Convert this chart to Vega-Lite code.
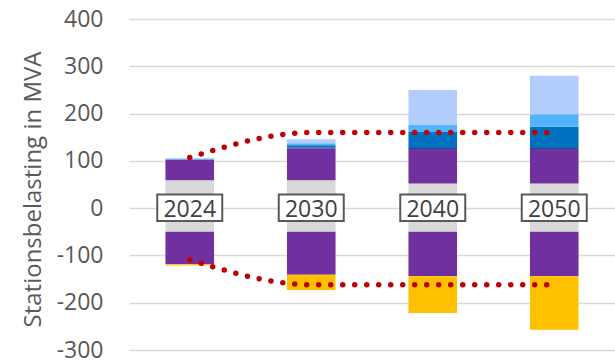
{
  "$schema": "https://vega.github.io/schema/vega-lite/v6.json",
  "width": 486,
  "height": 331,
  "autosize": {"type": "none"},
  "padding": {"left": 129, "top": 19, "right": 0, "bottom": 11},
  "config": {
    "view": {"stroke": null},
    "font": "Open Sans"
  },
  "datasets": {
    "segmenten": [
      {"jaar": "2024", "categorie": "Basislast", "waarde": 59, "volgorde": 1},
      {"jaar": "2024", "categorie": "Afname", "waarde": 44, "volgorde": 2},
      {"jaar": "2024", "categorie": "Laadpleinen", "waarde": 2, "volgorde": 5},
      {"jaar": "2024", "categorie": "Basislast", "waarde": -50, "volgorde": 1},
      {"jaar": "2024", "categorie": "Afname", "waarde": -68.5, "volgorde": 2},
      {"jaar": "2024", "categorie": "Opwek", "waarde": -3, "volgorde": 3},

      {"jaar": "2030", "categorie": "Basislast", "waarde": 59, "volgorde": 1},
      {"jaar": "2030", "categorie": "Afname", "waarde": 67.5, "volgorde": 2},
      {"jaar": "2030", "categorie": "Warmtepompen", "waarde": 2, "volgorde": 3},
      {"jaar": "2030", "categorie": "Elektrisch vervoer", "waarde": 4.3, "volgorde": 4},
      {"jaar": "2030", "categorie": "Laadpleinen", "waarde": 4.2, "volgorde": 5},
      {"jaar": "2030", "categorie": "Datacenters", "waarde": 8.6, "volgorde": 6},
      {"jaar": "2030", "categorie": "Basislast", "waarde": -50, "volgorde": 1},
      {"jaar": "2030", "categorie": "Afname", "waarde": -91, "volgorde": 2},
      {"jaar": "2030", "categorie": "Opwek", "waarde": -32, "volgorde": 3},

      {"jaar": "2040", "categorie": "Basislast", "waarde": 52, "volgorde": 1},
      {"jaar": "2040", "categorie": "Afname", "waarde": 73, "volgorde": 2},
      {"jaar": "2040", "categorie": "Warmtepompen", "waarde": 2, "volgorde": 3},
      {"jaar": "2040", "categorie": "Elektrisch vervoer", "waarde": 34, "volgorde": 4},
      {"jaar": "2040", "categorie": "Laadpleinen", "waarde": 16, "volgorde": 5},
      {"jaar": "2040", "categorie": "Datacenters", "waarde": 73, "volgorde": 6},
      {"jaar": "2040", "categorie": "Basislast", "waarde": -50, "volgorde": 1},
      {"jaar": "2040", "categorie": "Afname", "waarde": -94, "volgorde": 2},
      {"jaar": "2040", "categorie": "Opwek", "waarde": -78, "volgorde": 3},

      {"jaar": "2050", "categorie": "Basislast", "waarde": 52, "volgorde": 1},
      {"jaar": "2050", "categorie": "Afname", "waarde": 73, "volgorde": 2},
      {"jaar": "2050", "categorie": "Warmtepompen", "waarde": 2, "volgorde": 3},
      {"jaar": "2050", "categorie": "Elektrisch vervoer", "waarde": 45, "volgorde": 4},
      {"jaar": "2050", "categorie": "Laadpleinen", "waarde": 26.5, "volgorde": 5},
      {"jaar": "2050", "categorie": "Datacenters", "waarde": 81.5, "volgorde": 6},
      {"jaar": "2050", "categorie": "Basislast", "waarde": -50, "volgorde": 1},
      {"jaar": "2050", "categorie": "Afname", "waarde": -94, "volgorde": 2},
      {"jaar": "2050", "categorie": "Opwek", "waarde": -113, "volgorde": 3}
    ],
    "grenzen": [
      {"jaar": "2024", "grens": "boven", "waarde": 107},
      {"jaar": "2030", "grens": "boven", "waarde": 160},
      {"jaar": "2040", "grens": "boven", "waarde": 160},
      {"jaar": "2050", "grens": "boven", "waarde": 160},
      {"jaar": "2024", "grens": "onder", "waarde": -109},
      {"jaar": "2030", "grens": "onder", "waarde": -162},
      {"jaar": "2040", "grens": "onder", "waarde": -162},
      {"jaar": "2050", "grens": "onder", "waarde": -162}
    ],
    "jaren": [
      {"jaar": "2024"}, {"jaar": "2030"}, {"jaar": "2040"}, {"jaar": "2050"}
    ]
  },
  "layer": [
    {
      "data": {"name": "segmenten"},
      "mark": {"type": "bar"},
      "encoding": {
        "x": {
          "field": "jaar", "type": "nominal",
          "scale": {"paddingInner": 0.6, "paddingOuter": 0.3},
          "axis": null
        },
        "y": {
          "field": "waarde", "type": "quantitative", "stack": "zero",
          "scale": {"domain": [-300, 400], "nice": false, "zero": false},
          "axis": {
            "title": "Stationsbelasting in MVA",
            "values": [-300, -200, -100, 0, 100, 200, 300, 400],
            "labelExpr": "replace(datum.label, '−', '-')",
            "grid": true, "gridColor": "#D9D9D9", "gridWidth": 1.4,
            "domain": false, "ticks": false,
            "labelFont": "Open Sans", "labelFontSize": 23, "labelColor": "#595959",
            "labelPadding": 26,
            "titleFont": "Open Sans", "titleFontSize": 24, "titleFontWeight": "normal",
            "titleColor": "#595959",
            "titleAngle": -90, "titleX": -96, "titleY": 170,
            "titleAlign": "center", "titleBaseline": "middle"
          }
        },
        "color": {
          "field": "categorie", "type": "nominal", "legend": null,
          "scale": {
            "domain": ["Basislast", "Afname", "Warmtepompen", "Elektrisch vervoer", "Laadpleinen", "Datacenters", "Opwek"],
            "range": ["#D9D9D9", "#7030A0", "#1F4E79", "#0070C0", "#52B4FF", "#B4CDFF", "#FFC000"]
          }
        },
        "order": {"field": "volgorde", "type": "quantitative", "sort": "ascending"}
      }
    },
    {
      "data": {"name": "jaren"},
      "mark": {"type": "bar", "width": 65, "fill": "#FFFFFF", "stroke": "#595959", "strokeWidth": 2},
      "encoding": {
        "x": {"field": "jaar", "type": "nominal"},
        "y": {"datum": -27},
        "y2": {"datum": 29}
      }
    },
    {
      "data": {"name": "jaren"},
      "mark": {"type": "text", "font": "Open Sans", "fontSize": 23, "color": "#404040", "baseline": "alphabetic", "dy": 8.5},
      "encoding": {
        "x": {"field": "jaar", "type": "nominal"},
        "y": {"datum": 0},
        "text": {"field": "jaar"}
      }
    },
    {
      "data": {"name": "grenzen"},
      "mark": {"type": "line", "interpolate": "monotone", "color": "#C00000", "strokeWidth": 5.5, "strokeCap": "round", "strokeDash": [0, 12]},
      "encoding": {
        "x": {"field": "jaar", "type": "nominal"},
        "y": {"field": "waarde", "type": "quantitative"},
        "detail": {"field": "grens"}
      }
    }
  ]
}
